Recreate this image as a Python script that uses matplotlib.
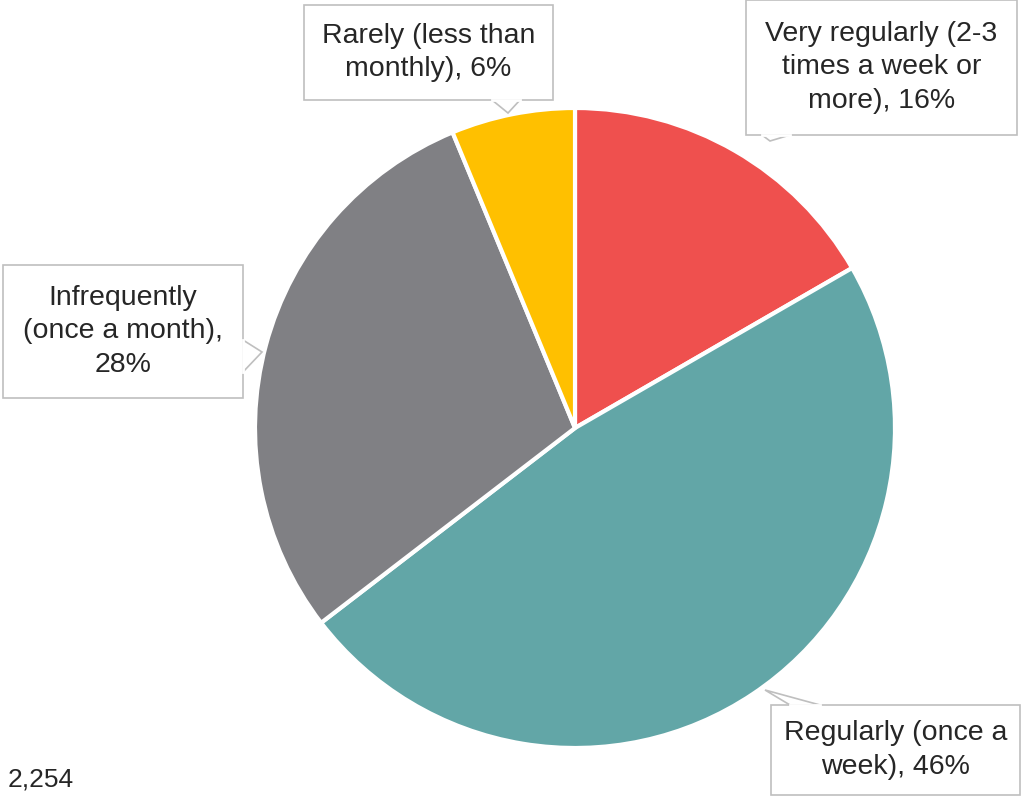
import matplotlib.pyplot as plt
from matplotlib.patches import Rectangle, Polygon

categories = ["Very regularly (2-3\ntimes a week or\nmore), 16%",
              "Regularly (once a\nweek), 46%",
              "Infrequently\n(once a month),\n28%",
              "Rarely (less than\nmonthly), 6%"]
shares = [16, 46, 28, 6]
colors = ["#EF504E", "#62A6A7", "#808084", "#FFC000"]
base_n = "2,254"

W, H = 1028, 801
plt.rcParams['font.family'] = ['Liberation Sans', 'DejaVu Sans']

fig = plt.figure(figsize=(W / 100, H / 100), dpi=100)
ax = fig.add_axes([0, 0, 1, 1])

ax.pie(shares, colors=colors, startangle=90, counterclock=False,
       center=(575, H - 428), radius=320, frame=True,
       wedgeprops=dict(edgecolor='white', linewidth=3))
ax.set_xlim(0, W)
ax.set_ylim(0, H)
ax.set_aspect('equal')
ax.axis('off')

# callout boxes: (x0, y0, x1, y1) in pixel coords from top, pointer triangle
boxes = [
    ((746, 0, 1017, 135), [(762, 135), (790, 135), (770, 141)]),
    ((771, 705, 1020, 795), [(790, 705), (820, 705), (765, 690)]),
    ((3, 265, 243, 398), [(243, 340), (243, 372), (262, 352)]),
    ((304, 5, 553, 100), [(492, 100), (520, 100), (508, 113)]),
]
edge = "#BFBFBF"
for label, ((x0, y0, x1, y1), tri) in zip(categories, boxes):
    ax.add_patch(Rectangle((x0, H - y1), x1 - x0, y1 - y0, facecolor='white',
                           edgecolor=edge, linewidth=1.2, zorder=3))
    ax.add_patch(Polygon([(x, H - y) for x, y in tri], closed=True,
                         facecolor='white', edgecolor=edge, linewidth=1.2, zorder=3))
    ax.plot([tri[0][0], tri[1][0]], [H - tri[0][1], H - tri[1][1]],
            color='white', linewidth=2, zorder=4)
    ax.text((x0 + x1) / 2, H - (y0 + y1) / 2, label, ha='center', va='center',
            fontsize=20.5, color='#262626', linespacing=1.38, zorder=5)

ax.text(8, H - 780, base_n, ha='left', va='center', fontsize=19, color='#262626')

fig.savefig("out.png", dpi=100)
